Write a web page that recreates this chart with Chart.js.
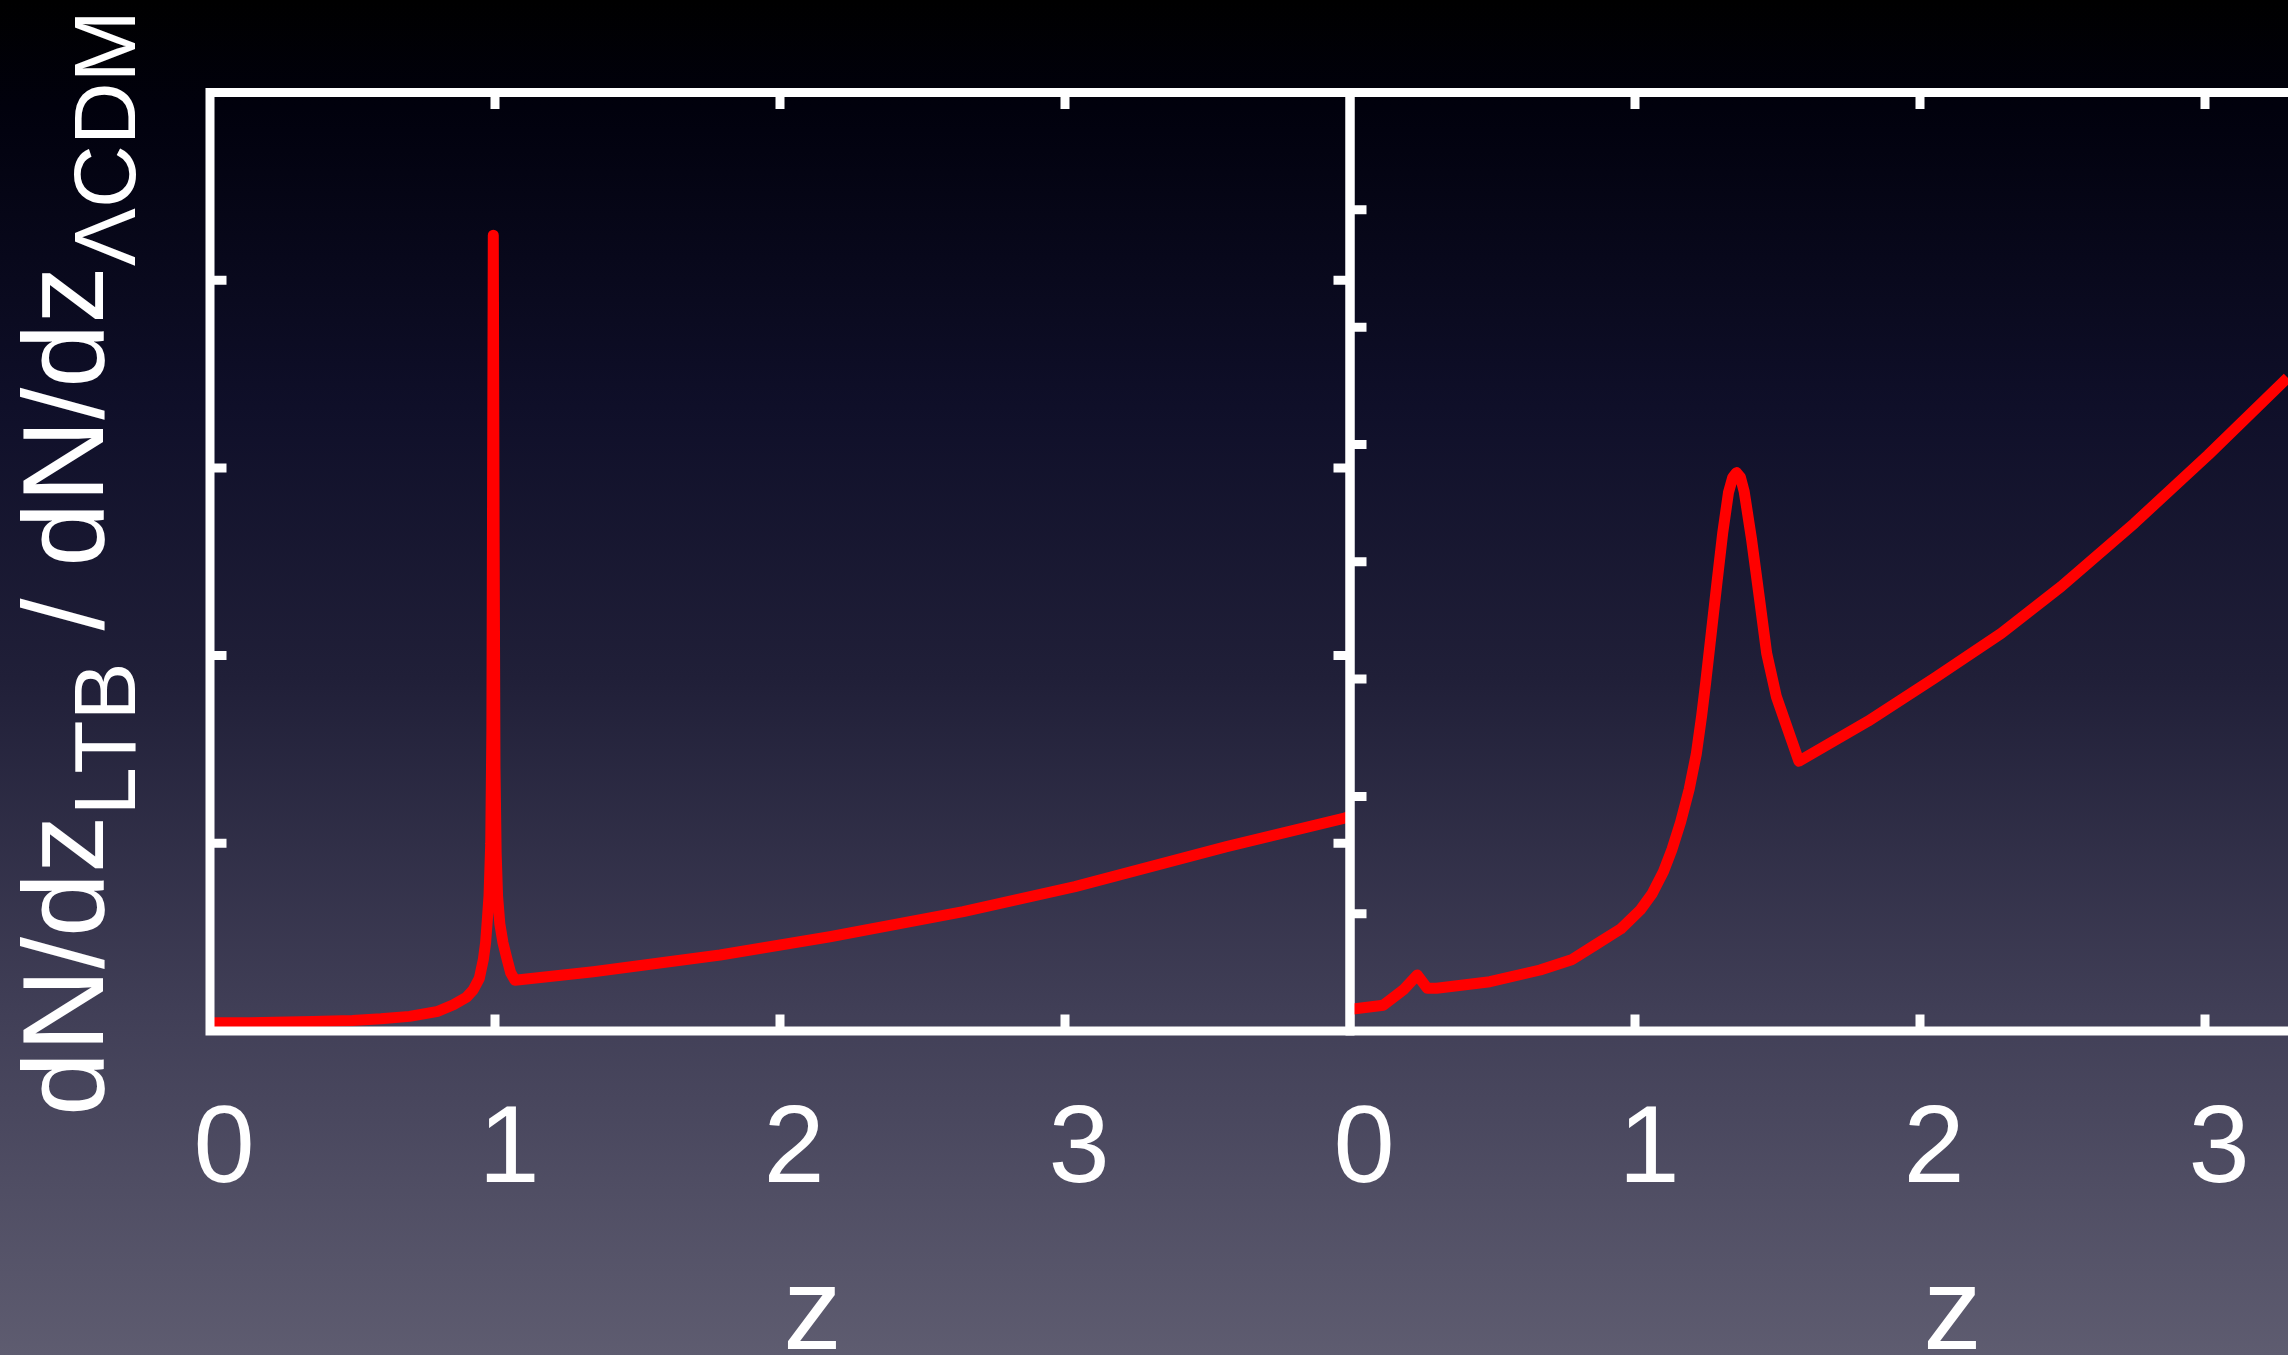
<!DOCTYPE html>
<html>
<head>
<meta charset="utf-8">
<title>dN/dz LTB / LCDM</title>
<script src="https://cdn.jsdelivr.net/npm/chart.js@4.4.1/dist/chart.umd.min.js"></script>
<style>
  html, body {
    margin: 0;
    padding: 0;
  }
  body {
    width: 2288px;
    height: 1355px;
    overflow: hidden;
    position: relative;
    background: linear-gradient(to bottom, #000000 0%, #01010d 8%, #0f0f29 30%, #201f38 50%, #413f57 75%, #5e5c70 100%);
  }
  #leftChart {
    position: absolute;
    left: 0;
    top: 0;
  }
  #rightChart {
    position: absolute;
    left: 1250px;
    top: 0;
  }
</style>
</head>
<body>
<canvas id="leftChart" width="1430" height="1355"></canvas>
<canvas id="rightChart" width="1300" height="1355"></canvas>

<script>
// left panel: sharp spike just below z = 1
const leftZ = [0, 0.14, 0.36, 0.5, 0.6, 0.7, 0.8, 0.854, 0.9, 0.924, 0.945, 0.959, 0.967, 0.973,
  0.979, 0.985, 0.989, 0.991, 0.994, 0.997, 1.0, 1.004, 1.009, 1.017, 1.028, 1.041, 1.055, 1.07,
  1.345, 1.79, 2.175, 2.643, 3.035, 3.567, 3.977, 4.0];
const leftRatio = [0.044, 0.044, 0.05, 0.056, 0.065, 0.078, 0.105, 0.14, 0.18, 0.22, 0.28, 0.38,
  0.47, 0.59, 0.72, 1.0, 1.6, 2.6, 4.24, 2.6, 1.4, 0.95, 0.72, 0.57, 0.47, 0.39, 0.31, 0.27,
  0.316, 0.405, 0.502, 0.636, 0.769, 0.982, 1.133, 1.145];

// right panel: small bump near z = 0.24, broad peak near z = 1.36
const rightZ = [0, 0.018, 0.117, 0.187, 0.236, 0.271, 0.304, 0.491, 0.667, 0.78, 0.86, 0.95,
  1.018, 1.06, 1.1, 1.13, 1.16, 1.19, 1.215, 1.234, 1.248, 1.268, 1.288, 1.308, 1.328, 1.343,
  1.356, 1.37, 1.383, 1.409, 1.436, 1.462, 1.496, 1.575, 1.817, 2.052, 2.285, 2.496, 2.753,
  3.011, 3.29];
const rightRatio = [0.18, 0.19, 0.22, 0.35, 0.478, 0.364, 0.364, 0.42, 0.52, 0.61, 0.733, 0.87,
  1.03, 1.17, 1.36, 1.55, 1.78, 2.06, 2.36, 2.69, 2.97, 3.40, 3.83, 4.25, 4.59, 4.72,
  4.76, 4.72, 4.6, 4.19, 3.70, 3.22, 2.85, 2.30, 2.64, 3.01, 3.39, 3.79, 4.33,
  4.91, 5.57];

const xTickLabels = ["0", "1", "2", "3", ""];
const leftYMax = 5;
const rightYMax = 8;
const xTitle = "z";
const yTitleParts = [
  { text: "dN/dz", sub: false },
  { text: "LTB", sub: true },
  { text: " / dN/dz", sub: false },
  { text: "\u039BCDM", sub: true }
];

const fontFamily = "'Liberation Sans', Helvetica, Arial, sans-serif";

function toPoints(xs, ys) {
  return xs.map((x, i) => ({ x: x, y: ys[i] }));
}

// white box with short inward tick marks on all four sides
const frameTicks = {
  id: "frameTicks",
  afterDatasetsDraw(chart) {
    const { ctx, chartArea: a, scales } = chart;
    const x = scales.x;
    const y = scales.y;
    const len = 16.5;
    ctx.save();
    ctx.strokeStyle = "#ffffff";
    ctx.lineWidth = 9;
    ctx.lineJoin = "miter";
    ctx.strokeRect(a.left, a.top, a.right - a.left, a.bottom - a.top);
    ctx.lineCap = "butt";
    ctx.beginPath();
    x.ticks.forEach(t => {
      if (t.value <= x.min || t.value >= x.max) return;
      const px = x.getPixelForValue(t.value);
      ctx.moveTo(px, a.bottom);
      ctx.lineTo(px, a.bottom - len);
      ctx.moveTo(px, a.top);
      ctx.lineTo(px, a.top + len);
    });
    y.ticks.forEach(t => {
      if (t.value <= y.min || t.value >= y.max) return;
      const py = y.getPixelForValue(t.value);
      ctx.moveTo(a.left, py);
      ctx.lineTo(a.left + len, py);
      ctx.moveTo(a.right, py);
      ctx.lineTo(a.right - len, py);
    });
    ctx.stroke();
    ctx.restore();
  }
};

// vertical axis title with subscripts, read bottom to top
const yTitle = {
  id: "yTitle",
  afterDraw(chart) {
    const ctx = chart.ctx;
    const mainFont = "115px " + fontFamily;
    const subFont = "87px " + fontFamily;
    let total = 0;
    ctx.save();
    yTitleParts.forEach(p => {
      ctx.font = p.sub ? subFont : mainFont;
      p.w = ctx.measureText(p.text).width;
      total += p.w;
    });
    const centerY = 563;
    ctx.translate(103, centerY + total / 2);
    ctx.rotate(-Math.PI / 2);
    ctx.fillStyle = "#ffffff";
    ctx.textBaseline = "alphabetic";
    ctx.textAlign = "left";
    let pos = 0;
    yTitleParts.forEach(p => {
      ctx.font = p.sub ? subFont : mainFont;
      ctx.fillText(p.text, pos, p.sub ? 32 : 0);
      pos += p.w;
    });
    ctx.restore();
  }
};

function makePanel(canvasId, xs, ys, yMax, padLeft, padRight, extraPlugins) {
  const ctx = document.getElementById(canvasId).getContext("2d");
  return new Chart(ctx, {
    type: "line",
    data: {
      datasets: [{
        data: toPoints(xs, ys),
        borderColor: "#ff0000",
        borderWidth: 11,
        borderJoinStyle: "round",
        pointRadius: 0,
        tension: 0,
        fill: false
      }]
    },
    options: {
      responsive: false,
      animation: false,
      devicePixelRatio: 1,
      layout: {
        padding: { left: padLeft, right: padRight, top: 92.5, bottom: 0 }
      },
      plugins: {
        legend: { display: false },
        tooltip: { enabled: false }
      },
      scales: {
        x: {
          type: "linear",
          min: 0,
          max: 4,
          grid: { display: false, drawTicks: false },
          border: { display: false },
          ticks: {
            stepSize: 1,
            color: "#ffffff",
            padding: 55,
            labelOffset: 14,
            maxRotation: 0,
            autoSkip: false,
            font: { family: fontFamily, size: 110 },
            callback: (v) => xTickLabels[v] !== undefined ? xTickLabels[v] : ""
          },
          title: {
            display: true,
            text: "  " + xTitle,
            color: "#ffffff",
            padding: { top: 0, bottom: 0 },
            font: { family: fontFamily, size: 117, lineHeight: 0.66 }
          },
          afterFit: (scale) => { scale.height = 324; }
        },
        y: {
          type: "linear",
          display: false,
          min: 0,
          max: yMax,
          ticks: { stepSize: 1 }
        }
      }
    },
    plugins: [frameTicks].concat(extraPlugins)
  });
}

makePanel("leftChart", leftZ, leftRatio, leftYMax, 210, 80, [yTitle]);
makePanel("rightChart", rightZ, rightRatio, rightYMax, 100, 60, []);
</script>
</body>
</html>
